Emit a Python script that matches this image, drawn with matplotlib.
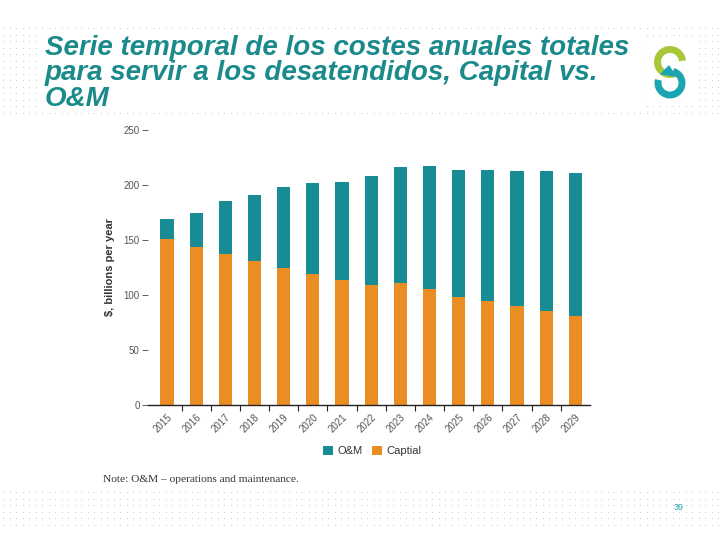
import numpy as np
import matplotlib
matplotlib.use('Agg')
import matplotlib.pyplot as plt
from matplotlib.patches import Rectangle, Arc, Polygon

years = ['2015', '2016', '2017', '2018', '2019', '2020', '2021', '2022',
         '2023', '2024', '2025', '2026', '2027', '2028', '2029']
total = [169, 174.5, 185.5, 191, 198, 202, 203, 208, 216, 217, 213.5, 213.5, 212.5, 212.5, 211]
capital = [151, 144, 137, 131, 124.5, 119, 113.5, 109, 111, 105.5, 98, 94.5, 90, 85.5, 81]
om = [t - c for t, c in zip(total, capital)]

teal = '#188c95'
orange = '#ea8e24'
title_color = '#1b8a8b'
label_gray = '#555555'

fig = plt.figure(figsize=(7.2, 5.4), dpi=100)


def fx(px):
    return px / 720


def fy(py):
    return 1 - py / 540


# dotted slide background (top band, bottom band)
bg = fig.add_axes([0, 0, 1, 1], zorder=-5)
bg.set_xlim(0, 720)
bg.set_ylim(540, 0)
bg.axis('off')
dx, dy = np.meshgrid(np.arange(3, 720, 6.5), np.arange(28, 118, 6.5))
bg.scatter(dx.ravel(), dy.ravel(), s=0.6, color='#c4c4c4', lw=0)
dx, dy = np.meshgrid(np.arange(3, 720, 6.5), np.arange(492, 528, 6.5))
bg.scatter(dx.ravel(), dy.ravel(), s=0.6, color='#c4c4c4', lw=0)
bg.add_patch(Rectangle((42, 33), 598, 75, color='white', zorder=2))
bg.add_patch(Rectangle((646, 40), 50, 64, color='white', zorder=2))
bg.add_patch(Rectangle((95, 480), 520, 10, color='white', zorder=2))

# logo
bg.add_patch(Arc((670, 62), 25, 25, theta1=60, theta2=355, lw=5, color='#a8c83a', zorder=3))
bg.add_patch(Arc((670, 83), 24, 24, theta1=-75, theta2=195, lw=5, color='#1ba4b2', zorder=3))
bg.add_patch(Polygon([[661, 74], [669, 66], [675, 76]], closed=True, color='#1ba4b2', zorder=3))

# title
fig.text(fx(45), fy(35), 'Serie temporal de los costes anuales totales\npara servir a los desatendidos, Capital vs.\nO&M',
         fontsize=20, fontweight='bold', fontstyle='italic', family='Liberation Sans',
         color=title_color, linespacing=0.97, va='top')

# chart
ax = fig.add_axes([fx(148), fy(405), fx(590) - fx(148), fy(130) - fy(405)])
x = np.arange(len(years))
ax.bar(x, capital, width=0.45, color=orange, label='Captial')
ax.bar(x, om, width=0.45, bottom=capital, color=teal, label='O&M')
ax.set_xlim(-0.65, len(years) - 0.5)
ax.set_ylim(0, 250)
ax.set_yticks([0, 50, 100, 150, 200, 250])
ax.set_xticks(x)
ax.set_xticklabels(years, rotation=45, ha='right', rotation_mode='anchor')
ax.set_xticks(x[:-1] + 0.5, minor=True)
ax.tick_params(axis='x', which='major', length=0, pad=5, labelsize=7, labelcolor=label_gray)
ax.tick_params(axis='x', which='minor', length=4, width=0.8, color='#222222')
ax.tick_params(axis='y', length=4, width=0.6, color='#444444', pad=2, labelsize=7, labelcolor=label_gray)
for lbl in ax.get_xticklabels() + ax.get_yticklabels():
    lbl.set_family('Liberation Sans')
for s in ['top', 'right', 'left']:
    ax.spines[s].set_visible(False)
ax.spines['bottom'].set_color('#222222')
ax.spines['bottom'].set_linewidth(1)
ax.set_ylabel('$, billions per year', fontsize=8, color='#333333', family='Liberation Sans',
              fontweight='semibold', labelpad=6)

handles, labels = ax.get_legend_handles_labels()
fig.legend(handles[::-1], labels[::-1], loc='center', bbox_to_anchor=(fx(372), fy(451)), ncol=2,
           frameon=False, handlelength=0.9, handleheight=0.9, handletextpad=0.4, columnspacing=0.8,
           prop={'family': 'Liberation Sans', 'size': 8}, labelcolor='#333333')

fig.text(fx(103), fy(479), 'Note: O&M \u2013 operations and maintenance.', fontsize=8.2,
         family='Liberation Serif', color='#333333', va='center')
fig.text(fx(679), fy(508), '39', fontsize=6.5, color='#2aa0a8', family='Liberation Sans', ha='center', va='center')

fig.savefig('out.png', dpi=100)
